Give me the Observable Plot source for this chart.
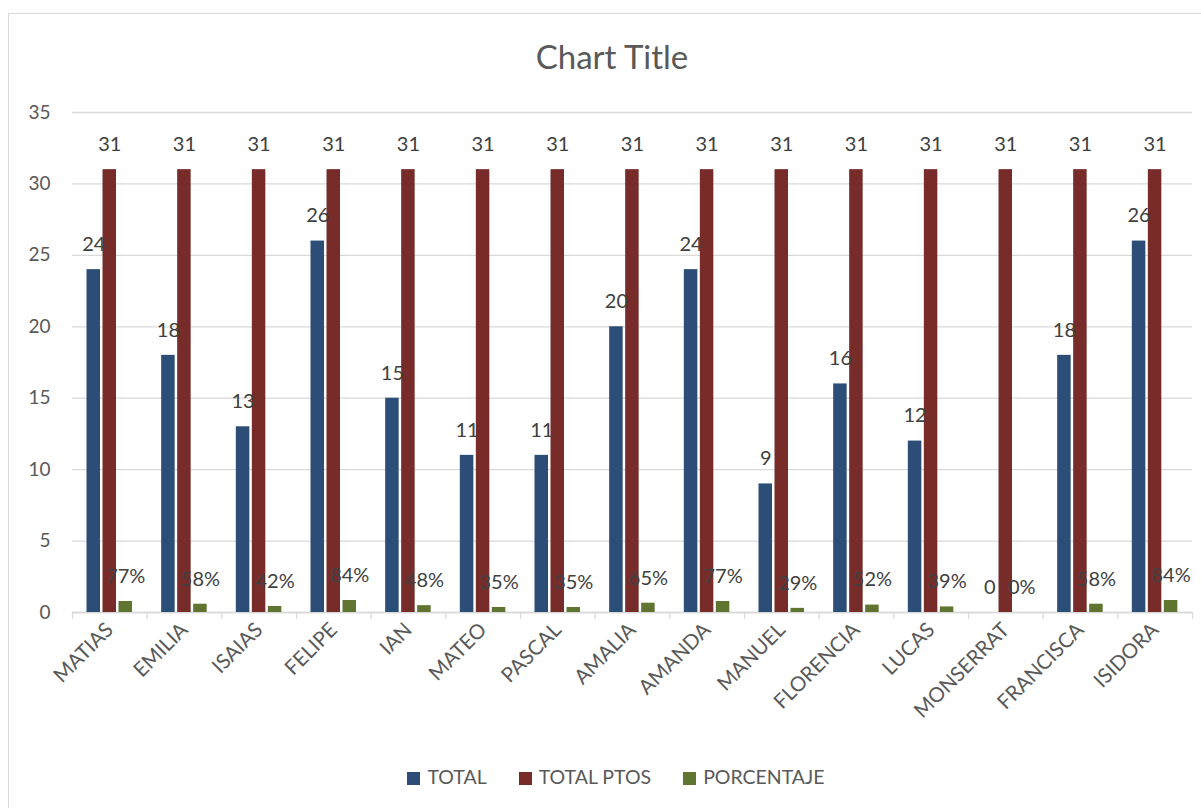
<!DOCTYPE html>
<html><head><meta charset="utf-8">
<script src="https://cdn.jsdelivr.net/npm/d3@7"></script>
<script src="https://cdn.jsdelivr.net/npm/@observablehq/plot@0.6"></script>
<style>
body{margin:0;background:#fff;font-family:Lato,"Open Sans",sans-serif;}
#frame{position:absolute;left:8px;top:13px;width:1200px;height:810px;border:1px solid #d9d9d9;box-sizing:border-box;}
#title{position:absolute;left:0;top:36px;width:1224px;text-align:center;font-size:33px;color:#595959;}
#chart{position:absolute;left:0;top:80px;}
#legend{position:absolute;left:0;top:765px;width:1232px;text-align:center;font-size:19.5px;color:#595959;}
#legend span.item{display:inline-block;margin:0 16px;}
#legend i{display:inline-block;width:13px;height:13px;margin-right:7px;vertical-align:-1px;}
</style></head>
<body>
<div id="frame"></div>
<div id="title">Chart Title</div>
<div id="chart"></div>
<div id="legend"></div>
<script>
const names = ["MATIAS","EMILIA","ISAIAS","FELIPE","IAN","MATEO","PASCAL","AMALIA","AMANDA","MANUEL","FLORENCIA","LUCAS","MONSERRAT","FRANCISCA","ISIDORA"];
const total = [24,18,13,26,15,11,11,20,24,9,16,12,0,18,26];
const totalPtos = [31,31,31,31,31,31,31,31,31,31,31,31,31,31,31];
const porcentaje = [0.77,0.58,0.42,0.84,0.48,0.35,0.35,0.65,0.77,0.29,0.52,0.39,0,0.58,0.84];
const seriesNames = ["TOTAL","TOTAL PTOS","PORCENTAJE"];
const colors = ["#2C4D75","#772C2A","#5F7530"];
const yTicks = [0,5,10,15,20,25,30,35];

const W = 1201, ML = 72, MR = 9;
const bw = (W - ML - MR) / names.length;
const barW = 13.5, first = 14.5, pitch = 16;
const ins = k => ({insetLeft: first + k*pitch, insetRight: bw - (first + k*pitch + barW)});
const cdx = k => first + k*pitch + barW/2 - bw/2;
const labelColor = "#404040";
const series = [total, totalPtos, porcentaje];
const fmt = [v => String(v), v => String(v), v => Math.round(v*100) + "%"];

const marks = [
  Plot.gridY(yTicks, {stroke: "#d9d9d9", strokeOpacity: 1, strokeWidth: 1.3}),
  Plot.axisY(yTicks, {tickSize: 0, tickPadding: 22, fontSize: 19, color: "#595959"}),
  Plot.axisX({tickRotate: -45, tickSize: 0, tickPadding: 14, fontSize: 20.5, color: "#595959"}),
  Plot.ruleX(names, {x: d => d, y1: 0, y2: 0, dx: -bw/2, insetBottom: -7, stroke: "#d9d9d9", strokeWidth: 1.3}),
  Plot.ruleX(names.slice(-1), {x: d => d, y1: 0, y2: 0, dx: bw/2, insetBottom: -7, stroke: "#d9d9d9", strokeWidth: 1.3}),
  Plot.ruleY([0], {stroke: "#d9d9d9", strokeWidth: 1.3})
];
series.forEach((vals, k) => {
  marks.push(Plot.barY(names, {x: d => d, y: vals, fill: colors[k], ...ins(k)}));
});
series.forEach((vals, k) => {
  marks.push(Plot.text(names, {x: d => d, y: vals, text: vals.map(fmt[k]), dx: cdx(k), dy: -25, fill: labelColor, fontSize: 20}));
});

const chart = Plot.plot({
  width: W, height: 665,
  marginLeft: ML, marginRight: MR, marginTop: 32, marginBottom: 133,
  style: {fontFamily: "Lato, 'Open Sans', sans-serif", background: "transparent", color: "#595959"},
  x: {type: "band", domain: names, padding: 0, round: false, label: null},
  y: {domain: [0, 35], label: null},
  marks
});
document.getElementById("chart").appendChild(chart);

const legend = document.getElementById("legend");
seriesNames.forEach((n, k) => {
  const s = document.createElement("span");
  s.className = "item";
  const i = document.createElement("i");
  i.style.background = colors[k];
  s.appendChild(i);
  s.appendChild(document.createTextNode(n));
  legend.appendChild(s);
});
</script>
</body></html>
